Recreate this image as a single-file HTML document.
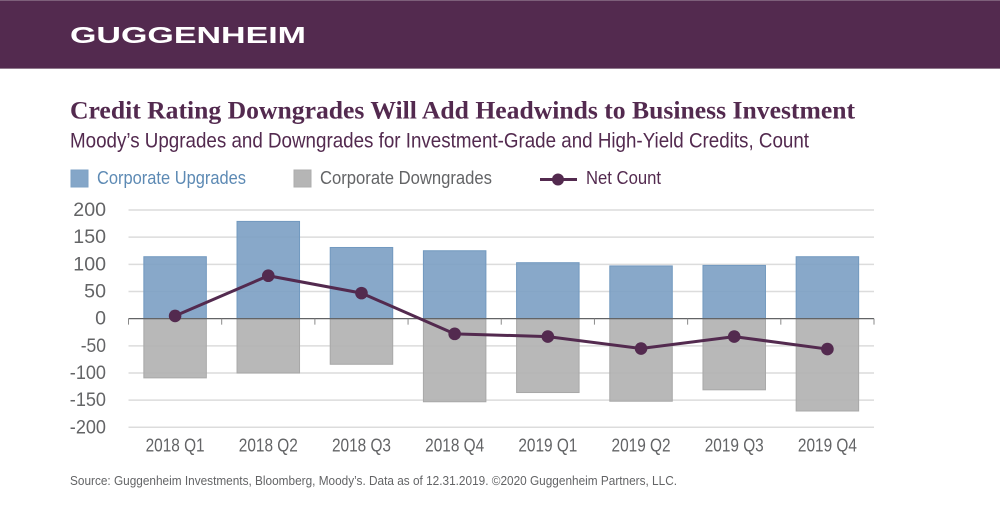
<!DOCTYPE html>
<html>
<head>
<meta charset="utf-8">
<title>Credit Rating Downgrades</title>
<style>
html,body{margin:0;padding:0;background:#fff;}
svg{display:block;}
text{font-family:"Liberation Sans",sans-serif;}
</style>
</head>
<body>
<svg id="chart" width="1000" height="531" viewBox="0 0 1000 531" xmlns="http://www.w3.org/2000/svg">
  <rect x="0" y="0" width="1000" height="531" fill="#ffffff"/>
  <rect x="0" y="0" width="1000" height="69" fill="#532a4f"/>
  <rect x="0" y="0" width="1000" height="1" fill="#7d5f7a"/>
  <rect x="0" y="68" width="1000" height="1" fill="#8f7a8d"/>
  <text x="70" y="43" font-size="23.500" font-weight="700" fill="#ffffff" textLength="236" lengthAdjust="spacingAndGlyphs">GUGGENHEIM</text>
  <text x="70" y="118.500" font-size="25" font-weight="700" fill="#532a4f" textLength="785" lengthAdjust="spacingAndGlyphs" style="font-family:'Liberation Serif',serif">Credit Rating Downgrades Will Add Headwinds to Business Investment</text>
  <text x="70" y="147.500" font-size="21" fill="#532a4f" textLength="739" lengthAdjust="spacingAndGlyphs">Moody’s Upgrades and Downgrades for Investment-Grade and High-Yield Credits, Count</text>

  <g>
    <rect x="71" y="170" width="17" height="17" fill="#84a6c8" stroke="#7ea2c5" stroke-width="1"/>
    <text x="97" y="184" font-size="18" fill="#5d8ab4" textLength="149" lengthAdjust="spacingAndGlyphs">Corporate Upgrades</text>
    <rect x="294" y="170" width="17" height="17" fill="#b5b5b5" stroke="#adadad" stroke-width="1"/>
    <text x="320" y="184" font-size="18" fill="#636466" textLength="172" lengthAdjust="spacingAndGlyphs">Corporate Downgrades</text>
    <line x1="540" y1="179.500" x2="577" y2="179.500" stroke="#532a4f" stroke-width="3"/>
    <circle cx="558" cy="179.500" r="6" fill="#532a4f"/>
    <text x="586" y="184" font-size="18" fill="#532a4f" textLength="75" lengthAdjust="spacingAndGlyphs">Net Count</text>
  </g>

  <g id="grid"></g>
  <g id="bars"></g>
  <g id="axis"></g>
  <g id="ylabels"></g>
  <g id="xlabels"></g>
  <g id="net"></g>

  <text x="70" y="485" font-size="12.500" fill="#636466" textLength="607" lengthAdjust="spacingAndGlyphs">Source: Guggenheim Investments, Bloomberg, Moody’s. Data as of 12.31.2019. ©2020 Guggenheim Partners, LLC.</text>
</svg>
<script>
const categories = ["2018 Q1","2018 Q2","2018 Q3","2018 Q4","2019 Q1","2019 Q2","2019 Q3","2019 Q4"];
const upgrades = [114,179,131,125,103,97,98,114];
const downgrades = [-109,-100,-84,-153,-136,-152,-131,-170];
const netCount = [5,79,47,-28,-33,-55,-33,-56];
const yTicks = [200,150,100,50,0,-50,-100,-150,-200];

const NS = "http://www.w3.org/2000/svg";
const plotLeft = 128.5, plotRight = 874, y200 = 210, yMinus200 = 427.3;
const bandWidth = (plotRight - plotLeft) / categories.length;
const barWidth = 62.5;
function xBand(i){ return plotLeft + bandWidth * i; }
function xCenter(i){ return xBand(i) + bandWidth / 2; }
function yScale(v){ return y200 + (200 - v) * (yMinus200 - y200) / 400; }
function make(tag, parent, attrs){
  const el = document.createElementNS(NS, tag);
  for (const k in attrs) el.setAttribute(k, attrs[k]);
  parent.appendChild(el);
  return el;
}
const grid = document.getElementById("grid");
const bars = document.getElementById("bars");
const axis = document.getElementById("axis");
const ylabels = document.getElementById("ylabels");
const xlabels = document.getElementById("xlabels");
const net = document.getElementById("net");

yTicks.forEach(function(t){
  if (t !== 0) {
    const g = make("line", grid, {x1:plotLeft, x2:plotRight, y1:yScale(t), y2:yScale(t), stroke:"#dcdcdc", "stroke-width":1.5});
    
    
  }
  const digits = String(Math.abs(t)).length;
  const labelWidth = digits * 10.9 + (t < 0 ? 3.5 : 0);
  const lab = make("text", ylabels, {x:106 - labelWidth, y:yScale(t) + 6, "font-size":19.5, fill:"#636466", textLength:labelWidth, lengthAdjust:"spacingAndGlyphs"});
  lab.textContent = String(t);
  
  
});

categories.forEach(function(c, i){
  const x = xCenter(i) - barWidth / 2;
  const up = make("rect", bars, {x:x, y:yScale(upgrades[i]), width:barWidth, height:yScale(0) - yScale(upgrades[i]), fill:"#7b9fc3", "fill-opacity":0.9, stroke:"#7299bf", "stroke-width":1});
  
  
  const down = make("rect", bars, {x:x, y:yScale(0), width:barWidth, height:yScale(downgrades[i]) - yScale(0), fill:"#b0b0b0", "fill-opacity":0.9, stroke:"#a8a8a8", "stroke-width":1});
  
  
  const lab = make("text", xlabels, {x:xCenter(i) - 29.5, y:451.500, "font-size":18, fill:"#636466", textLength:59, lengthAdjust:"spacingAndGlyphs"});
  lab.textContent = c;
  
  
});

const zeroLine = make("line", axis, {x1:plotLeft, x2:plotRight, y1:yScale(0), y2:yScale(0), stroke:"#636466", "stroke-width":1.2});


for (let i = 0; i <= categories.length; i++) {
  const tick = make("line", axis, {x1:xBand(i), x2:xBand(i), y1:yScale(0), y2:yScale(0) + 6, stroke:"#8a8a8a", "stroke-width":1});
  
  
}

const pts = netCount.map(function(v, i){ return xCenter(i) + "," + yScale(v); }).join(" ");
const netLine = make("polyline", net, {points:pts, fill:"none", stroke:"#532a4f", "stroke-width":3});


netCount.forEach(function(v, i){
  const dot = make("circle", net, {cx:xCenter(i), cy:yScale(v), r:6.3, fill:"#532a4f"});
  
  
});
</script>
</body>
</html>
